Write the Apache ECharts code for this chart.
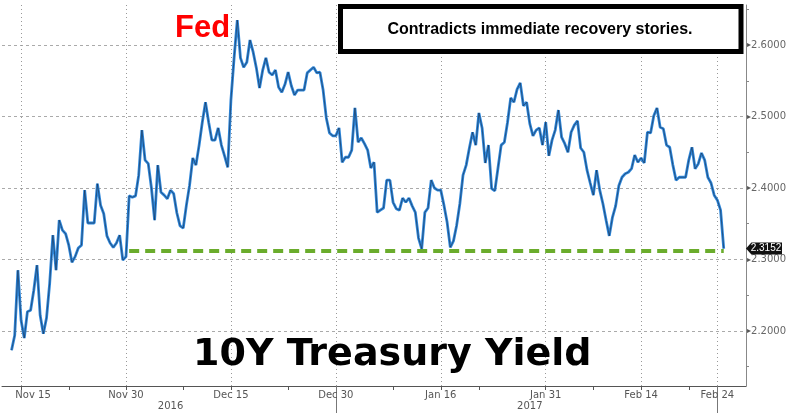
<!DOCTYPE html>
<html><head><meta charset="utf-8">
<script src="https://cdn.jsdelivr.net/npm/echarts@6/dist/echarts.min.js"></script>
<style>html,body{margin:0;padding:0;background:#fff}#c{width:794px;height:413px}</style>
</head><body><div id="c"></div>
<script>
// ---- data ----
const firstDay = [2016, 10, 11];           // Fri 11 Nov 2016 (weekday axis, 3 intraday slots per day)
const slotsPerDay = 3;
const categoryCount = 235;
const labeledDays = {'2016-11-15':'Nov 15','2016-11-30':'Nov 30','2016-12-15':'Dec 15','2016-12-30':'Dec 30',
                     '2017-01-16':'Jan 16','2017-01-31':'Jan 31','2017-02-14':'Feb 14','2017-02-24':'Feb 24'};
const minorTickDays = ['2016-11-22','2016-12-08','2016-12-23','2017-01-09','2017-01-20','2017-02-07','2017-02-21'];
const yearLabels = {'2016-12-06 2':'2016','2017-01-27 1':'2017'};
const yearSeparators = ['2016-12-30 0','2017-02-24 0'];
const leadingEmpty = [null, null, null];
const yieldsNov = [2.173,2.194,2.285,2.215,2.190,2.227,2.229,2.257,2.292,2.222,2.196,2.218,2.267,2.334,2.285,2.355,2.341,2.336,2.320,2.296,2.304,2.316,2.320,2.397,2.351,2.351,2.351,2.406,2.376,2.364,2.333,2.323,2.317,2.323,2.334,2.299,2.304,2.389,2.387];
const yieldsDec = [2.389,2.418,2.481,2.439,2.434,2.400,2.355,2.432,2.394,2.390,2.385,2.397,2.392,2.365,2.347,2.344,2.376,2.404,2.442,2.432,2.460,2.492,2.520,2.492,2.467,2.467,2.484,2.460,2.445,2.429,2.523,2.582,2.635,2.582,2.569,2.576,2.607,2.590,2.568,2.540,2.565,2.582,2.562,2.558,2.565,2.541,2.534,2.545,2.562,2.543,2.530,2.537,2.537,2.537,2.561,2.565,2.569,2.561,2.562,2.537,2.498,2.477,2.473,2.473,2.484,2.436];
const yieldsJan = [2.443,2.443,2.453,2.512,2.464,2.470,2.462,2.453,2.428,2.436,2.366,2.369,2.372,2.411,2.411,2.380,2.371,2.369,2.386,2.380,2.386,2.375,2.366,2.330,2.315,2.366,2.372,2.411,2.400,2.397,2.397,2.376,2.352,2.317,2.326,2.348,2.378,2.418,2.432,2.456,2.478,2.460,2.505,2.484,2.435,2.460,2.399,2.396,2.428,2.460,2.464,2.492,2.526,2.520,2.538,2.547,2.515,2.520,2.490,2.473,2.481,2.484,2.460,2.492,2.445,2.467];
const yieldsFeb = [2.481,2.509,2.471,2.462,2.450,2.478,2.488,2.494,2.456,2.450,2.425,2.407,2.390,2.425,2.397,2.378,2.355,2.333,2.359,2.375,2.403,2.415,2.420,2.422,2.427,2.446,2.436,2.442,2.435,2.478,2.477,2.501,2.512,2.485,2.483,2.460,2.457,2.432,2.411,2.415,2.415,2.415,2.439,2.457,2.427,2.434,2.449,2.439,2.415,2.407,2.390,2.383,2.369,2.3152];
const supportLevel = 2.312;
const supportFrom = '2016-11-30 1';
const yMin = 2.123, yMax = 2.656;

// ---- build ----
const categories = [];
const d = new Date(Date.UTC(firstDay[0], firstDay[1], firstDay[2]));
while (categories.length < categoryCount) {
  const wd = d.getUTCDay();
  if (wd !== 0 && wd !== 6) {
    const iso = d.toISOString().slice(0, 10);
    for (let s = 0; s < slotsPerDay && categories.length < categoryCount; s++) categories.push(iso + ' ' + s);
  }
  d.setUTCDate(d.getUTCDate() + 1);
}
const yields = [].concat(leadingEmpty, yieldsNov, yieldsDec, yieldsJan, yieldsFeb);
const lastIdx = yields.length - 1;
const lastYield = yields[lastIdx];

const isLabeled = (i) => { const c = categories[i]; return c.endsWith(' 0') && labeledDays[c.slice(0, 10)] !== undefined; };
const isMinor = (i) => { const c = categories[i]; return c.endsWith(' 0') && minorTickDays.indexOf(c.slice(0, 10)) >= 0; };

const FONT = 'DejaVu Sans';
const chart = echarts.init(document.getElementById('c'), null, {renderer: 'canvas'});
chart.setOption({
  animation: false,
  backgroundColor: '#ffffff',
  grid: {left: 2, right: 48, top: 5, bottom: 27, containLabel: false, outerBoundsMode: 'none'},
  xAxis: [{
    type: 'category', data: categories, boundaryGap: false, position: 'bottom',
    axisLine: {show: true, lineStyle: {color: '#555', width: 1}},
    axisTick: {show: true, length: 4, interval: (i) => isLabeled(i) || isMinor(i), lineStyle: {color: '#555'}},
    axisLabel: {
      interval: (i) => isLabeled(i), margin: 4, color: '#555', fontFamily: FONT, fontSize: 10,
      formatter: (v) => { const t = labeledDays[v.slice(0, 10)]; return v.slice(0,10) === '2016-11-15' ? '{s|' + t + '}' : t; },
      rich: {s: {padding: [0, 0, 0, 24], color: '#555', fontFamily: FONT, fontSize: 10}}
    },
    splitLine: {show: true, interval: (i) => isLabeled(i), lineStyle: {color: '#999', type: [1, 3], width: 1}}
  }, {
    type: 'category', data: categories, boundaryGap: false, position: 'bottom',
    axisLine: {show: false},
    axisTick: {show: true, length: 27, interval: (i) => yearSeparators.indexOf(categories[i]) >= 0, lineStyle: {color: '#777'}},
    axisLabel: {interval: (i) => yearLabels[categories[i]] !== undefined, margin: 15, color: '#555', fontFamily: FONT, fontSize: 10,
                formatter: (v) => yearLabels[v] || ''},
    splitLine: {show: false}
  }],
  yAxis: {
    type: 'value', position: 'right', min: yMin, max: yMax, splitNumber: 5, scale: true,
    axisLine: {show: true, lineStyle: {color: '#888'}},
    axisTick: {show: false},
    minorTick: {show: true, splitNumber: 2, length: 3, lineStyle: {color: '#888'}},
    minorSplitLine: {show: false},
    axisLabel: {showMinLabel: false, showMaxLabel: false, margin: 1, color: '#666', fontFamily: FONT, fontSize: 10,
      formatter: (v) => '{t|\u25B8}' + v.toFixed(4),
      rich: {t: {fontSize: 8, color: '#555', fontFamily: FONT}}},
    splitLine: {show: true, showMinLine: false, showMaxLine: false, lineStyle: {color: '#aaa', type: [3, 3], width: 1}}
  },
  series: [{
    type: 'line', data: yields, symbol: 'none', xAxisIndex: 0,
    lineStyle: {color: '#2f88dc', width: 2.8}, z: 2, silent: true
  }, {
    type: 'line', data: yields, symbol: 'none', xAxisIndex: 0,
    lineStyle: {color: '#16233a', width: 0.9, opacity: 0.6}, z: 3, silent: true,
    markLine: {
      silent: true, symbol: ['none', 'none'], label: {show: false},
      lineStyle: {color: '#6aac2c', width: 4, type: [10, 6]},
      data: [[{coord: [supportFrom, supportLevel]}, {coord: [categories[lastIdx], supportLevel]}]]
    },
    markPoint: {
      silent: true,
      data: [{coord: [categories[categoryCount - 1], lastYield], value: lastYield}],
      symbol: 'path://M0,6 L6,0 L40,0 L40,12 L6,12 Z', symbolSize: [36, 12], symbolKeepAspect: false,
      symbolOffset: ['50%', 0], itemStyle: {color: '#111'},
      label: {show: true, position: 'inside', offset: [2, 0], color: '#fff', fontFamily: 'Liberation Sans', fontSize: 10,
              formatter: (p) => p.value.toFixed(4)}
    }
  }],
  graphic: [
    {type: 'rect', z: 100, shape: {x: 340.5, y: 6.5, width: 400.5, height: 45},
     style: {fill: '#fff', stroke: '#000', lineWidth: 5}},
    {type: 'text', z: 101, style: {x: 540, y: 30, text: 'Contradicts immediate recovery stories.', align: 'center', verticalAlign: 'middle',
      font: 'bold 16px "Liberation Sans", Arial, sans-serif', fill: '#000'}},
    {type: 'text', z: 101, style: {x: 175, y: 28, text: 'Fed', align: 'left', verticalAlign: 'middle',
      font: 'bold 31px "Liberation Sans", Arial, sans-serif', fill: '#ff0000'}},
    {type: 'text', z: 101, style: {x: 193, y: 355, text: '10Y Treasury Yield', align: 'left', verticalAlign: 'middle',
      font: 'bold 38px "DejaVu Sans", sans-serif', fill: '#000'}}
  ]
});
</script></body></html>
